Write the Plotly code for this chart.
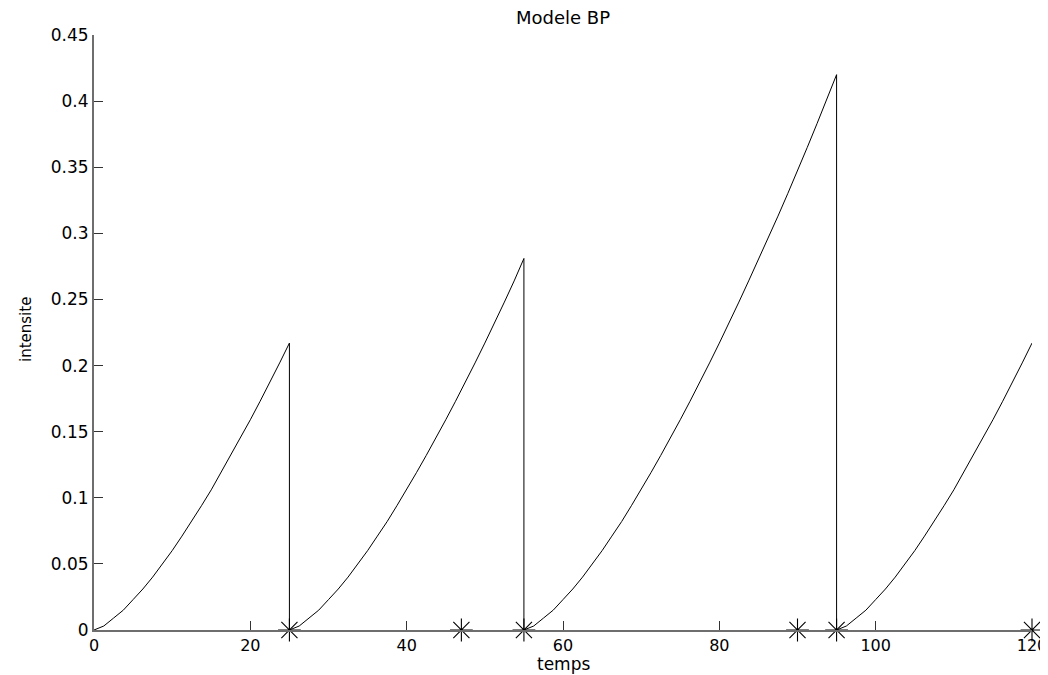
import plotly.graph_objects as go

# ---- data ----
# sawtooth intensity: each segment starts at 0 at a reset time
seg1_t = [0, 1.25, 2.5, 3.75, 5, 6.25, 7.5, 8.75, 10, 11.25, 12.5, 13.75, 15, 16.25, 17.5,
          18.75, 20, 21.25, 22.5, 23.75, 25]
seg1_y = [0, 0.003, 0.009, 0.015, 0.023, 0.031, 0.040, 0.050, 0.060, 0.071, 0.082, 0.094,
          0.106, 0.119, 0.132, 0.145, 0.159, 0.173, 0.187, 0.202, 0.217]

seg2_t = [25, 26.25, 27.5, 28.75, 30, 31.25, 32.5, 33.75, 35, 36.25, 37.5, 38.75, 40, 41.25,
          42.5, 43.75, 45, 46.25, 47.5, 48.75, 50, 51.25, 52.5, 53.75, 55]
seg2_y = [0, 0.003, 0.009, 0.015, 0.023, 0.031, 0.040, 0.050, 0.060, 0.071, 0.082, 0.094,
          0.106, 0.119, 0.132, 0.145, 0.159, 0.173, 0.187, 0.202, 0.217, 0.232, 0.248,
          0.264, 0.281]

seg3_t = [55, 56.25, 57.5, 58.75, 60, 61.25, 62.5, 63.75, 65, 66.25, 67.5, 68.75, 70, 71.25,
          72.5, 73.75, 75, 76.25, 77.5, 78.75, 80, 81.25, 82.5, 83.75, 85, 86.25, 87.5,
          88.75, 90, 91.25, 92.5, 93.75, 95]
seg3_y = [0, 0.003, 0.009, 0.015, 0.023, 0.031, 0.040, 0.050, 0.060, 0.071, 0.082, 0.094,
          0.106, 0.119, 0.132, 0.145, 0.159, 0.173, 0.187, 0.202, 0.217, 0.232, 0.248,
          0.264, 0.280, 0.297, 0.313, 0.330, 0.347, 0.365, 0.383, 0.401, 0.420]

seg4_t = [95, 96.25, 97.5, 98.75, 100, 101.25, 102.5, 103.75, 105, 106.25, 107.5, 108.75,
          110, 111.25, 112.5, 113.75, 115, 116.25, 117.5, 118.75, 120]
seg4_y = [0, 0.003, 0.009, 0.015, 0.023, 0.031, 0.040, 0.050, 0.060, 0.071, 0.082, 0.094,
          0.106, 0.119, 0.132, 0.145, 0.159, 0.173, 0.187, 0.202, 0.217]

events_t = [25, 47, 55, 90, 95, 120]
events_y = [0, 0, 0, 0, 0, 0]

x_ticks = [0, 20, 40, 60, 80, 100, 120]
x_ticktext = ["0", "20", "40", "60", "80", "100", "120"]
y_ticks = [0, 0.05, 0.1, 0.15, 0.2, 0.25, 0.3, 0.35, 0.4, 0.45]
y_ticktext = ["0", "0.05", "0.1", "0.15", "0.2", "0.25", "0.3", "0.35", "0.4", "0.45"]

title_text = "Modele BP"
x_title = "temps"
y_title = "intensite"

# build one continuous line (vertical drops at resets)
line_t = seg1_t + seg2_t + seg3_t + seg4_t
line_y = seg1_y + seg2_y + seg3_y + seg4_y

FONT = "DejaVu Sans"
OFF = 8  # page body margin offset
W, H = 1048 - OFF, 675 - OFF
ML, MR, MT, MB = 94 - OFF, 16, 35 - OFF, 45
PH = H - MT - MB
PW = W - ML - MR


def px_x(sx):
    return (sx - OFF - ML) / PW


def px_y(sy):
    return (H - MB - (sy - OFF)) / PH


fig = go.Figure()
fig.add_trace(go.Scatter(
    x=line_t, y=line_y, mode="lines",
    line=dict(color="black", width=1),
    showlegend=False, hoverinfo="skip",
))
fig.add_trace(go.Scatter(
    x=events_t, y=events_y, mode="markers",
    marker=dict(symbol="asterisk-open", size=19, color="black",
                line=dict(color="black", width=1.1)),
    cliponaxis=False, showlegend=False, hoverinfo="skip",
))

fig.update_layout(
    width=W, height=H,
    paper_bgcolor="white", plot_bgcolor="white",
    margin=dict(l=ML, r=MR, t=MT, b=MB, autoexpand=False),
    font=dict(family=FONT, size=16, color="black"),
)
fig.add_annotation(text=title_text, xref="paper", yref="paper",
                   x=px_x(563), y=px_y(17), xanchor="center", yanchor="middle",
                   showarrow=False, font=dict(family=FONT, size=18, color="black"))
fig.add_annotation(text=x_title, xref="paper", yref="paper",
                   x=px_x(563), y=px_y(664),
                   xanchor="center", yanchor="middle",
                   showarrow=False, font=dict(family=FONT, size=17, color="black"))
fig.add_annotation(text=y_title, xref="paper", yref="paper",
                   x=px_x(26), y=px_y(330),
                   xanchor="center", yanchor="middle", textangle=-90,
                   showarrow=False, font=dict(family=FONT, size=15, color="black"))

fig.update_xaxes(
    range=[0, 120], tickvals=x_ticks, ticktext=x_ticktext,
    ticks="inside", ticklen=9, tickwidth=1, tickcolor="#333",
    showline=True, linecolor="#6e6e6e", linewidth=2,
    showgrid=False, zeroline=False, automargin=False,
    ticklabeloverflow="allow",
    tickfont=dict(family=FONT, size=16, color="black"),
)
fig.update_yaxes(
    range=[0, 0.45], tickvals=y_ticks, ticktext=y_ticktext,
    ticks="inside", ticklen=9, tickwidth=1, tickcolor="#333",
    showline=True, linecolor="#6e6e6e", linewidth=2,
    showgrid=False, zeroline=False, automargin=False,
    ticklabeloverflow="allow",
    tickfont=dict(family=FONT, size=17, color="black"),
)

fig.write_html("out.html")
